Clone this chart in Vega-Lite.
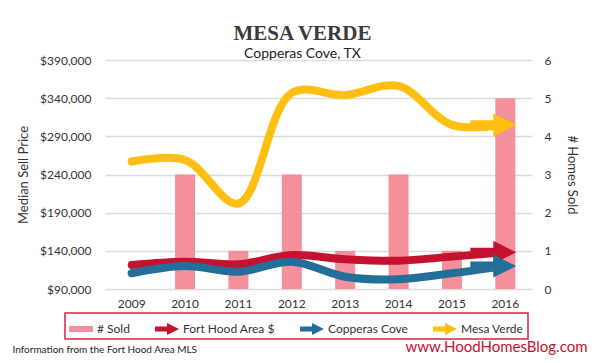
{
  "$schema": "https://vega.github.io/schema/vega-lite/v6.json",
  "width": 427,
  "height": 229,
  "autosize": {"type": "none"},
  "padding": {"left": 105, "top": 60, "right": 68, "bottom": 74},
  "background": "white",
  "title": {
    "text": "MESA VERDE",
    "subtitle": "Copperas Cove, TX",
    "anchor": "middle",
    "frame": "group",
    "dx": -16,
    "offset": -7,
    "font": "Liberation Serif",
    "fontSize": 21,
    "fontWeight": "bold",
    "color": "#3a3a3a",
    "subtitleFont": "Lato",
    "subtitleFontSize": 14,
    "subtitleColor": "#222222",
    "subtitlePadding": 3
  },
  "datasets": {
    "sold": [
      {"year": "2009", "series": "# Sold", "count": 0},
      {"year": "2010", "series": "# Sold", "count": 3},
      {"year": "2011", "series": "# Sold", "count": 1},
      {"year": "2012", "series": "# Sold", "count": 3},
      {"year": "2013", "series": "# Sold", "count": 1},
      {"year": "2014", "series": "# Sold", "count": 3},
      {"year": "2015", "series": "# Sold", "count": 1},
      {"year": "2016", "series": "# Sold", "count": 5}
    ],
    "price": [
      {"year": "2009", "series": "Fort Hood Area $", "price": 121500},
      {"year": "2010", "series": "Fort Hood Area $", "price": 125800},
      {"year": "2011", "series": "Fort Hood Area $", "price": 122400},
      {"year": "2012", "series": "Fort Hood Area $", "price": 134500},
      {"year": "2013", "series": "Fort Hood Area $", "price": 129000},
      {"year": "2014", "series": "Fort Hood Area $", "price": 127100},
      {"year": "2015", "series": "Fort Hood Area $", "price": 132400},
      {"year": "2016", "series": "Fort Hood Area $", "price": 138100},
      {"year": "2009", "series": "Copperas Cove", "price": 110600},
      {"year": "2010", "series": "Copperas Cove", "price": 120000},
      {"year": "2011", "series": "Copperas Cove", "price": 112700},
      {"year": "2012", "series": "Copperas Cove", "price": 125800},
      {"year": "2013", "series": "Copperas Cove", "price": 106100},
      {"year": "2014", "series": "Copperas Cove", "price": 102700},
      {"year": "2015", "series": "Copperas Cove", "price": 110600},
      {"year": "2016", "series": "Copperas Cove", "price": 120000},
      {"year": "2009", "series": "Mesa Verde", "price": 257000},
      {"year": "2010", "series": "Mesa Verde", "price": 259000},
      {"year": "2011", "series": "Mesa Verde", "price": 202000},
      {"year": "2012", "series": "Mesa Verde", "price": 347000},
      {"year": "2013", "series": "Mesa Verde", "price": 344000},
      {"year": "2014", "series": "Mesa Verde", "price": 356000},
      {"year": "2015", "series": "Mesa Verde", "price": 305000},
      {"year": "2016", "series": "Mesa Verde", "price": 305000}
    ]
  },
  "layer": [
    {
      "data": {"name": "sold"},
      "mark": {"type": "bar"},
      "encoding": {
        "x": {
          "field": "year",
          "type": "ordinal",
          "scale": {"paddingInner": 0.625, "paddingOuter": 0.3125},
          "axis": {
            "orient": "bottom",
            "labelAngle": 0,
            "labelPadding": 9,
            "title": "Information from the Fort Hood Area MLS",
            "titleX": -93,
            "titleY": 63,
            "titleAlign": "left",
            "titleBaseline": "alphabetic",
            "titleFontSize": 10,
            "titleFontWeight": "normal",
            "titleColor": "#222222"
          }
        },
        "y": {
          "field": "count",
          "type": "quantitative",
          "scale": {"domain": [0, 6], "nice": false},
          "axis": {
            "orient": "right",
            "values": [0, 1, 2, 3, 4, 5, 6],
            "grid": false,
            "labelPadding": 12,
            "title": "# Homes Sold",
            "titlePadding": 14
          }
        },
        "color": {
          "field": "series",
          "type": "nominal",
          "scale": {
            "domain": ["# Sold", "Fort Hood Area $", "Copperas Cove", "Mesa Verde"],
            "range": ["#f3909b", "#c41230", "#246f99", "#fcbf12"]
          },
          "legend": {"title": null}
        }
      }
    },
    {
      "data": {"name": "price"},
      "encoding": {
        "x": {
          "field": "year",
          "type": "ordinal",
          "axis": {
            "orient": "bottom",
            "labels": false,
            "ticks": false,
            "domain": false,
            "grid": false,
            "title": "www.HoodHomesBlog.com",
            "titleX": 482,
            "titleY": 62,
            "titleAlign": "right",
            "titleBaseline": "alphabetic",
            "titleFontSize": 15,
            "titleFontWeight": "normal",
            "titleColor": "#c8102e"
          }
        },
        "y": {
          "field": "price",
          "type": "quantitative",
          "scale": {"domain": [90000, 390000], "nice": false, "zero": false},
          "axis": {
            "orient": "left",
            "values": [90000, 140000, 190000, 240000, 290000, 340000, 390000],
            "format": "$,.0f",
            "grid": true,
            "labelPadding": 14,
            "title": "Median Sell Price",
            "titlePadding": 9
          }
        },
        "color": {"field": "series", "type": "nominal", "legend": {"title": null}}
      },
      "layer": [
        {
          "mark": {"type": "line", "strokeWidth": 8, "strokeCap": "round", "interpolate": "catmull-rom"}
        },
        {
          "transform": [{"filter": "datum.year == '2016'"}],
          "mark": {"type": "point", "filled": true, "opacity": 1, "size": 2116, "xOffset": -12, "strokeWidth": 0},
          "encoding": {
            "shape": {
              "field": "series",
              "type": "nominal",
              "scale": {
                "domain": ["# Sold", "Fort Hood Area $", "Copperas Cove", "Mesa Verde"],
                "range": [
                  "M-1,-0.25L1,-0.25L1,0.25L-1,0.25Z",
                  "M-1,-0.2L0,-0.2L0,-0.5L1,0L0,0.5L0,0.2L-1,0.2Z",
                  "M-1,-0.2L0,-0.2L0,-0.5L1,0L0,0.5L0,0.2L-1,0.2Z",
                  "M-1,-0.2L0,-0.2L0,-0.5L1,0L0,0.5L0,0.2L-1,0.2Z"
                ]
              },
              "legend": {"title": null}
            }
          }
        }
      ]
    }
  ],
  "resolve": {"scale": {"y": "independent"}, "axis": {"x": "independent"}},
  "config": {
    "font": "Lato",
    "view": {"stroke": null},
    "axis": {
      "labelFont": "Lato",
      "labelFontSize": 12,
      "labelColor": "#333333",
      "titleFont": "Lato",
      "titleFontSize": 13,
      "titleFontWeight": "normal",
      "titleColor": "#333333",
      "ticks": false,
      "domain": false,
      "gridColor": "#dcdcdc",
      "gridWidth": 1.5
    },
    "legend": {
      "orient": "none",
      "legendX": -40,
      "legendY": 253,
      "direction": "horizontal",
      "fillColor": "white",
      "strokeColor": "#d0263c",
      "strokeWidth": 1.5,
      "padding": 4,
      "symbolSize": 576,
      "symbolStrokeWidth": 0,
      "symbolOpacity": 1,
      "symbolFillColor": "#999999",
      "labelFont": "Lato",
      "labelFontSize": 12,
      "labelColor": "#333333",
      "labelOffset": 4,
      "columnPadding": 25
    }
  }
}
